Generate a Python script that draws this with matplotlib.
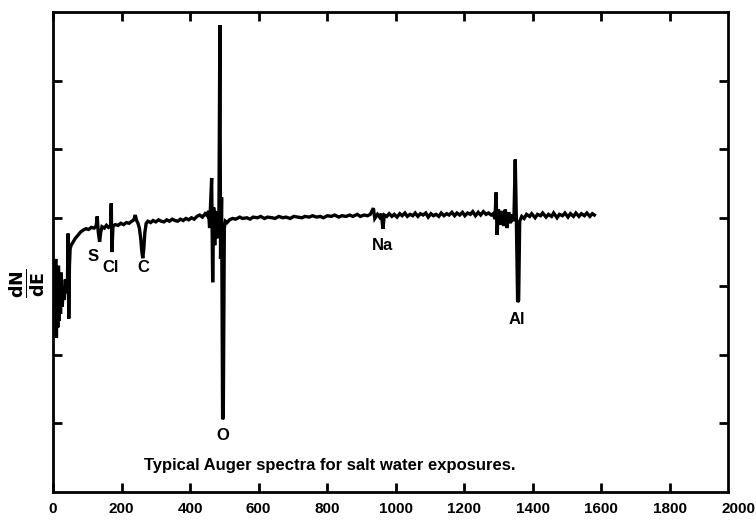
import matplotlib
matplotlib.use("Agg")
import matplotlib.pyplot as plt
import matplotlib.transforms as mtransforms

# ---------------- data ----------------
energy_start = [5, 8, 10, 12, 14, 16, 18, 20, 22, 24, 27, 30, 33, 36, 39, 42, 44, 46, 48, 50, 53, 58, 65, 72, 80, 88]
signal_start = [2.7, 3.4, 2.25, 3.1, 2.4, 3.3, 2.5, 3.0, 2.6, 3.2, 2.7, 3.0, 2.8, 3.1, 2.9, 3.0, 3.77, 2.53, 3.3, 3.55, 3.6, 3.64, 3.7, 3.74, 3.79, 3.82]

energy_s_cl = [96, 104, 112, 120, 126, 129, 132, 136, 139, 143, 150, 156, 162, 168, 170, 172, 175, 182, 190, 198, 206, 214, 222, 230, 236, 240, 244, 248]
signal_s_cl = [3.84, 3.83, 3.86, 3.85, 3.88, 4.02, 3.80, 3.65, 3.78, 3.87, 3.85, 3.89, 3.86, 3.88, 4.21, 3.50, 3.88, 3.90, 3.89, 3.92, 3.90, 3.93, 3.92, 3.95, 3.97, 4.04, 3.96, 3.92]

energy_c = [252, 256, 259, 262, 265, 268, 272, 277]
signal_c = [3.85, 3.70, 3.52, 3.41, 3.55, 3.78, 3.92, 3.95]

energy_mid = [285, 292, 300, 308, 316, 324, 332, 340, 348, 356, 364, 372, 380, 388, 396, 404, 412, 420, 428, 436, 444, 450]
signal_mid = [3.93, 3.96, 3.94, 3.97, 3.95, 3.94, 3.97, 3.95, 3.98, 3.96, 3.95, 3.98, 3.96, 3.99, 3.97, 4.00, 3.98, 4.02, 4.04, 4.01, 4.06, 4.03]

energy_o = [454, 457, 460, 463, 466, 469, 472, 475, 478, 481, 484, 487, 489, 492, 495, 497, 500, 503, 508]
signal_o = [4.10, 3.85, 4.20, 4.58, 3.06, 4.15, 3.60, 4.10, 3.70, 4.05, 3.75, 6.81, 3.40, 4.30, 1.06, 1.10, 3.85, 3.95, 3.93]

energy_na = [515, 524, 533, 545, 553, 566, 575, 584, 597, 606, 617, 626, 640, 648, 659, 671, 680, 692, 703, 714,
             727, 735, 748, 757, 769, 780, 789, 801, 812, 822, 834, 843, 855, 866, 875, 888, 897, 908, 918, 926,
             935, 939, 947, 953, 958, 963, 967, 974, 981, 989, 996, 1004, 1012, 1019, 1027, 1034, 1042, 1050,
             1057, 1065, 1072, 1080, 1088, 1095, 1103, 1110, 1118, 1126, 1133, 1141, 1149, 1156, 1164,
             1172, 1179, 1187, 1195, 1202, 1210, 1218, 1225, 1233, 1241, 1248, 1256, 1264, 1271, 1279]
signal_na = [3.97, 3.99, 3.98, 4.01, 3.99, 4.00, 3.98, 4.01, 4.00, 4.02, 3.99, 4.01, 4.00, 3.99, 4.02, 4.00, 4.01, 3.99, 4.02, 4.01,
             4.00, 4.02, 4.01, 4.03, 4.01, 4.02, 4.00, 4.03, 4.02, 4.04, 4.01, 4.03, 4.02, 4.04, 4.02, 4.05, 4.02, 4.04, 4.03, 4.05,
             4.14, 3.99, 4.05, 4.01, 4.06, 3.84, 4.04, 4.02, 4.06, 4.02, 4.05, 4.01, 4.06, 4.03, 4.07, 4.02, 4.05, 4.03,
             4.07, 4.02, 4.06, 4.04, 4.07, 4.01, 4.06, 4.03, 4.05, 4.02, 4.07, 4.03, 4.06, 4.04, 4.08,
             4.03, 4.07, 4.04, 4.08, 4.03, 4.07, 4.05, 4.09, 4.03, 4.08, 4.04, 4.09, 4.05, 4.07, 4.04]

energy_al = [1285, 1290, 1293, 1296, 1300, 1305, 1310, 1315, 1320, 1325, 1330, 1335, 1340, 1345, 1349, 1352, 1356, 1359, 1362, 1368,
             1375, 1382, 1391, 1397, 1407, 1414, 1423, 1429, 1439, 1446, 1455, 1461, 1471, 1478, 1487, 1494, 1503,
             1510, 1519, 1526, 1535, 1542, 1551, 1558, 1567, 1574, 1580]
signal_al = [4.06, 3.98, 4.37, 3.75, 4.12, 3.90, 4.10, 3.88, 4.12, 3.85, 4.08, 3.92, 4.05, 3.95, 4.85, 4.05, 2.77, 2.80, 3.95, 4.02,
             3.99, 4.05, 4.02, 4.06, 4.00, 4.05, 4.03, 4.07, 4.01, 4.05, 4.02, 4.07, 4.00, 4.05, 4.03, 4.07, 4.01,
             4.06, 4.02, 4.07, 4.02, 4.06, 4.03, 4.07, 4.02, 4.06, 4.04]

peak_labels = ["S", "Cl", "C", "O", "Na", "Al"]
peak_label_x = [118, 168, 264, 497, 963, 1354]
peak_label_y = [3.43, 3.28, 3.27, 0.82, 3.59, 2.51]

x_ticks = [0, 200, 400, 600, 800, 1000, 1200, 1400, 1600, 1800]
x_tick_labels = ["0", "200", "400", "600", "800", "1000", "1200", "1400", "1600", "1800"]
extra_tick_value = 2000
extra_tick_label = "2000"
y_ticks = [1, 2, 3, 4, 5, 6]

caption = "Typical Auger spectra for salt water exposures."
ylabel = r"$\mathbf{\frac{dN}{dE}}$"

energy = energy_start + energy_s_cl + energy_c + energy_mid + energy_o + energy_na + energy_al
signal = signal_start + signal_s_cl + signal_c + signal_mid + signal_o + signal_na + signal_al

# ---------------- figure ----------------
plt.rcParams['font.family'] = ['Liberation Sans', 'DejaVu Sans']
fig = plt.figure(figsize=(7.56, 5.26), dpi=100)
ax = fig.add_axes([0.0701, 0.0646, 0.8929, 0.9124])

ax.plot(energy, signal, color="black", linewidth=2.4, solid_joinstyle="miter")

ax.set_xlim(0, 1970)
ax.set_ylim(0, 7)

for sp in ax.spines.values():
    sp.set_linewidth(2.0)

ax.set_xticks(x_ticks)
ax.set_xticklabels(x_tick_labels, fontsize=11, fontweight="bold")
ax.set_yticks(y_ticks)
ax.set_yticklabels([])
ax.tick_params(axis="both", direction="in", length=6.5, width=2.0, top=True, right=True)
ax.tick_params(axis="x", pad=7)

trans = mtransforms.blended_transform_factory(ax.transData, ax.transAxes)
ax.annotate(extra_tick_label, xy=(extra_tick_value, 0), xycoords=trans,
            xytext=(0, -7), textcoords="offset points",
            ha="center", va="top", fontsize=11, fontweight="bold", annotation_clip=False)

for lab, lx, ly in zip(peak_labels, peak_label_x, peak_label_y):
    ax.text(lx, ly, lab, ha="center", va="center", fontsize=12, fontweight="bold")

ax.text(809, 0.38, caption, ha="center", va="center", fontsize=12, fontweight="bold")

ax.text(-0.038, 0.435, ylabel, transform=ax.transAxes, rotation=90,
        ha="center", va="center", fontsize=18)

fig.savefig("out.png", dpi=100)
